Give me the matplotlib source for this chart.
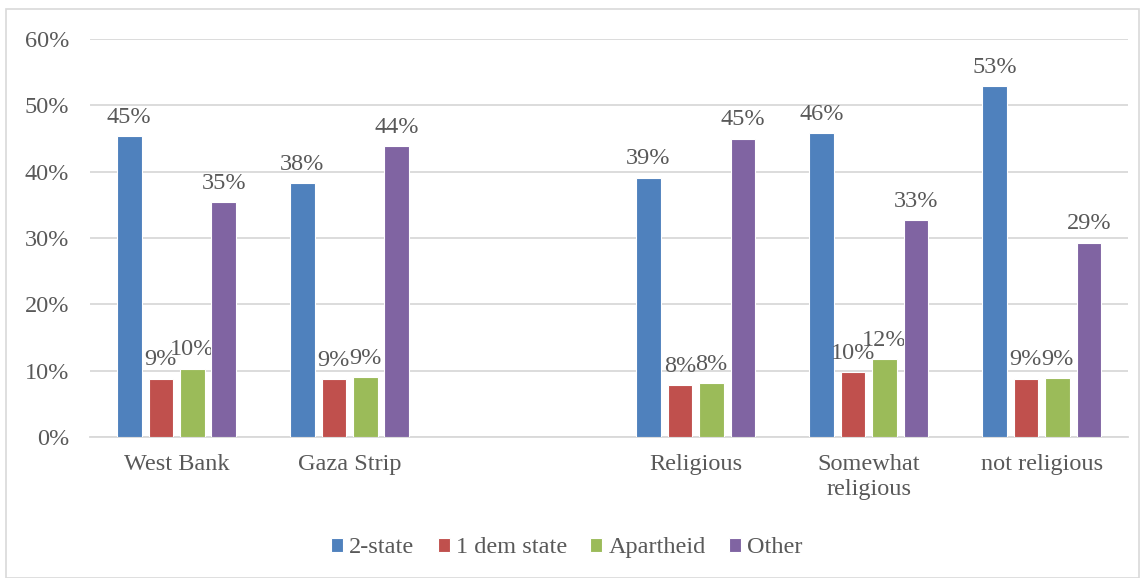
import numpy as np
import matplotlib.pyplot as plt
from matplotlib.patches import Rectangle

# data (blank slot between the two groups)
categories = ['West Bank', 'Gaza Strip', '', 'Religious', 'Somewhat\nreligious', 'not religious']
two_state = [45.4, 38.3, np.nan, 39.1, 45.8, 52.9]
one_dem = [8.8, 8.7, np.nan, 7.8, 9.8, 8.8]
apartheid = [10.3, 9.0, np.nan, 8.1, 11.7, 8.9]
other = [35.4, 43.8, np.nan, 45.0, 32.7, 29.3]
series_names = ['2-state', '1 dem state', 'Apartheid', 'Other']
colors = ['#4F81BD', '#C0504D', '#9BBB59', '#8064A2']

plt.rcParams['font.family'] = ['Liberation Serif', 'DejaVu Serif']
txt = '#595959'
fs = 17.5

fig = plt.figure(figsize=(11.47, 5.78), dpi=100)
fig.patches.append(Rectangle((0.005, 0.0), 0.988, 0.985, transform=fig.transFigure,
                             fill=False, edgecolor='#D9D9D9', linewidth=1.2))
ax = fig.add_axes([0.0785, 0.2439, 0.905, 0.6886])

x = np.arange(len(categories))
pitch = 0.182
width = 0.142
for i, (vals, name, c) in enumerate(zip([two_state, one_dem, apartheid, other], series_names, colors)):
    pos = x + (i - 1.5) * pitch
    v = np.array(vals) / 100
    ax.bar(pos, v, width, color=c, edgecolor='white', linewidth=0.8, label=name, zorder=3)
    for p, val in zip(pos, vals):
        if np.isnan(val):
            continue
        ax.annotate('{:.0f}%'.format(val), (p, val / 100), xytext=(0, 6),
                    textcoords='offset points', ha='center', va='bottom',
                    fontsize=fs, color=txt)

ax.set_xlim(-0.5, len(categories) - 0.5)
ax.set_ylim(0, 0.6)
ax.set_yticks(np.arange(0, 0.61, 0.1))
ax.set_yticklabels(['{:.0f}%'.format(t * 100) for t in np.arange(0, 0.61, 0.1)])
ax.set_xticks(x)
ax.set_xticklabels(categories, va='top', linespacing=1.3)
ax.tick_params(axis='both', length=0, labelsize=fs, labelcolor=txt)
ax.tick_params(axis='y', pad=15)
ax.tick_params(axis='x', pad=12)
ax.grid(axis='y', color='#D9D9D9', linewidth=1.3, zorder=0)
for s in ['top', 'right', 'left']:
    ax.spines[s].set_visible(False)
ax.spines['bottom'].set_color('#D9D9D9')
ax.spines['bottom'].set_linewidth(1.3)

leg = fig.legend(*ax.get_legend_handles_labels(), loc='center', bbox_to_anchor=(0.494, 0.052),
                 ncol=4, frameon=False, fontsize=fs, handlelength=0.5, handleheight=0.5,
                 handletextpad=0.25, columnspacing=0.95)
for t in leg.get_texts():
    t.set_color(txt)

plt.savefig('out.png', dpi=100)
